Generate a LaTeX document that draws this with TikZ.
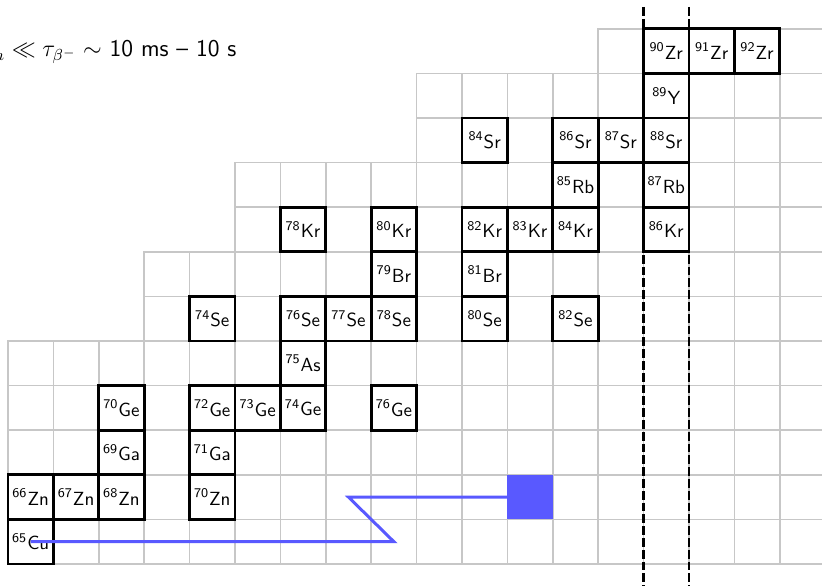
\documentclass[tikz,border=0pt]{standalone}
\begin{document}
\begin{tikzpicture}[x=22.7pt,y=22.3pt,
  gridline/.style={draw=black!22, line width=0.8pt},
  iso/.style={draw=black, line width=1.4pt, minimum width=22.7pt, minimum height=22.3pt, inner sep=0pt, font=\sffamily\fontsize{9.5}{10}\selectfont},
  target/.style={fill=blue!65, draw=none, minimum width=22.7pt, minimum height=22.3pt, inner sep=0pt},
  blueline/.style={draw=blue!65, line width=1.5pt},
  magicline/.style={draw=black, line width=1.4pt, dash pattern=on 4.4pt off 1.5pt},
  titletext/.style={font=\sffamily\fontsize{12}{14}\selectfont, anchor=base east, inner sep=0pt}]
\useasboundingbox (-0.176,-0.471) rectangle (17.93,12.646);
\clip (-0.176,-0.471) rectangle (17.93,12.646);
% background grid of nuclides
\foreach \r/\s in {0/0,1/0,2/0,3/0,4/0,5/3,6/3,7/5,8/5,9/9,10/9,11/13} {
  \foreach \c in {\s,...,18} { \draw[gridline] (\c,\r) rectangle ++(1,1); }
}
% magic number N=50
\coordinate (d1t) at (14,12.49);
\coordinate (d1b) at (14,-0.7);
\coordinate (d2t) at (15,12.49);
\coordinate (d2b) at (15,-0.7);
\draw[magicline] (d1t) -- (d1b);
\draw[magicline] (d2t) -- (d2b);
% stable nuclides
\foreach \A/\El/\N/\Z in {65/Cu/36/29, 66/Zn/36/30, 67/Zn/37/30, 68/Zn/38/30, 70/Zn/40/30,
  69/Ga/38/31, 71/Ga/40/31, 70/Ge/38/32, 72/Ge/40/32, 73/Ge/41/32, 74/Ge/42/32, 76/Ge/44/32,
  75/As/42/33, 74/Se/40/34, 76/Se/42/34, 77/Se/43/34, 78/Se/44/34, 80/Se/46/34, 82/Se/48/34,
  79/Br/44/35, 81/Br/46/35, 78/Kr/42/36, 80/Kr/44/36, 82/Kr/46/36, 83/Kr/47/36, 84/Kr/48/36,
  86/Kr/50/36, 85/Rb/48/37, 87/Rb/50/37, 84/Sr/46/38, 86/Sr/48/38, 87/Sr/49/38, 88/Sr/50/38,
  89/Y/50/39, 90/Zr/50/40, 91/Zr/51/40, 92/Zr/52/40} {
  \node[iso] (n\A\El) at ({\N-35.5},{\Z-28.5}) {\textsuperscript{\A}\El};
}
% r-process path
\node[target] (t77Zn) at (11.5,1.5) {};
\coordinate (k1) at (8.5,0.5);
\coordinate (k2) at (7.5,1.5);
\draw[blueline] (n65Cu.center) -- (k1) -- (k2) -- (t77Zn.west);
% title
\node[titletext] (title) at (5.04,11.37) {$\tau_n \ll \tau_{\beta^-} \sim$ 10 ms -- 10 s};
\end{tikzpicture}
\end{document}
